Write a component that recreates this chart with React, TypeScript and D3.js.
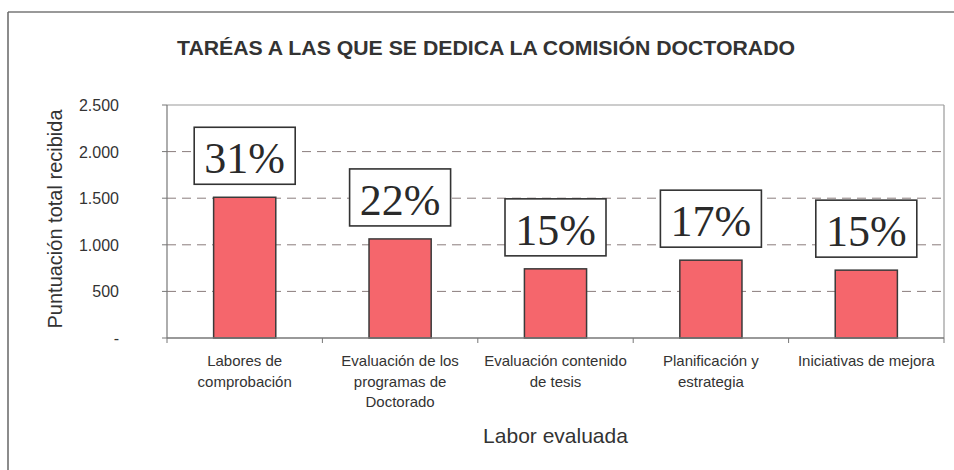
import React from "react";
import * as d3 from "d3";

const categories: string[][] = [
  ["Labores de", "comprobación"],
  ["Evaluación de los", "programas de", "Doctorado"],
  ["Evaluación contenido", "de tesis"],
  ["Planificación y", "estrategia"],
  ["Iniciativas de mejora"],
];
const values: number[] = [1510, 1063, 742, 835, 728];
const percentLabels: string[] = ["31%", "22%", "15%", "17%", "15%"];
const yTicks: number[] = [0, 500, 1000, 1500, 2000, 2500];
const title = "TARÉAS A LAS QUE SE DEDICA LA COMISIÓN DOCTORADO";
const yTitle = "Puntuación total recibida";
const xTitle = "Labor evaluada";

const W = 954;
const H = 470;
const M = { left: 167, right: 944, top: 105, bottom: 338 };

const locale = d3.formatLocale({
  decimal: ",",
  thousands: ".",
  grouping: [3],
  currency: ["", ""],
});
const fmt = locale.format(",d");

export default function App() {
  const x = d3
    .scaleBand<number>()
    .domain(values.map((_, i) => i))
    .range([M.left, M.right])
    .paddingInner(0.6)
    .paddingOuter(0.3);
  const xOuter = d3
    .scaleBand<number>()
    .domain(values.map((_, i) => i))
    .range([M.left, M.right]);
  const y = d3.scaleLinear().domain([0, 2500]).range([M.bottom, M.top]);

  const textCol = "#333";
  const sans = "'Liberation Sans', Arial, sans-serif";
  const serif = "'Liberation Serif', 'Times New Roman', serif";
  const boxW = 101;
  const boxH = 57;
  const gap = 13;

  return (
    <svg
      width={W}
      height={H}
      style={{ position: "absolute", left: 0, top: 0, background: "#fff" }}
    >
      {/* outer frame (scan shows only left and top edges) */}
      <line x1={8} y1={12} x2={W} y2={12} stroke="#777" strokeWidth={1.5} />
      <line x1={8} y1={12} x2={8} y2={H} stroke="#666" strokeWidth={1.5} />

      <text
        x={486}
        y={55}
        textAnchor="middle"
        fontFamily={sans}
        fontWeight="bold"
        fontSize={21}
        fill={textCol}
        textLength={618}
        lengthAdjust="spacingAndGlyphs"
      >
        {title}
      </text>

      {/* gridlines */}
      {yTicks
        .filter((t) => t > 0 && t < 2500)
        .map((t) => (
          <line
            key={"g" + t}
            x1={M.left}
            x2={M.right}
            y1={y(t)}
            y2={y(t)}
            stroke="#8a7d7d"
            strokeWidth={1}
            strokeDasharray="9,6"
          />
        ))}

      {/* plot border */}
      <line x1={M.left} x2={M.right} y1={M.top} y2={M.top} stroke="#999" strokeWidth={1.2} />
      <line x1={M.right} x2={M.right} y1={M.top} y2={M.bottom} stroke="#999" strokeWidth={1.2} />
      <line x1={M.left} x2={M.left} y1={M.top} y2={M.bottom} stroke="#777" strokeWidth={1.2} />

      {/* y tick marks and labels */}
      {yTicks.map((t) => (
        <g key={"t" + t}>
          <line x1={M.left - 5} x2={M.left} y1={y(t)} y2={y(t)} stroke="#777" />
          <text
            x={119}
            y={y(t) + 6}
            textAnchor="end"
            fontFamily={sans}
            fontSize={16}
            fill={textCol}
          >
            {t === 0 ? "-" : fmt(t)}
          </text>
        </g>
      ))}

      {/* bars */}
      {values.map((v, i) => (
        <rect
          key={"b" + i}
          x={x(i)}
          y={y(v)}
          width={x.bandwidth()}
          height={y(0) - y(v)}
          fill="#F5666C"
          stroke="#3a3a3a"
          strokeWidth={1.5}
        />
      ))}

      {/* x axis */}
      <line x1={M.left} x2={M.right} y1={M.bottom} y2={M.bottom} stroke="#777" strokeWidth={1.5} />
      {values.map((_, i) => (
        <line
          key={"xt" + i}
          x1={xOuter(i)}
          x2={xOuter(i)}
          y1={M.bottom}
          y2={M.bottom + 5}
          stroke="#777"
        />
      ))}
      <line x1={M.right} x2={M.right} y1={M.bottom} y2={M.bottom + 5} stroke="#777" />

      {/* percentage boxes */}
      {values.map((v, i) => {
        const cx = (x(i) as number) + x.bandwidth() / 2;
        const bottom = y(v) - gap;
        return (
          <g key={"p" + i}>
            <rect
              x={cx - boxW / 2}
              y={bottom - boxH}
              width={boxW}
              height={boxH}
              fill="#fff"
              stroke="#333"
              strokeWidth={1.6}
            />
            <text
              x={cx}
              y={bottom - 11}
              textAnchor="middle"
              fontFamily={serif}
              fontSize={44}
              fill="#2a2a2a"
            >
              {percentLabels[i]}
            </text>
          </g>
        );
      })}

      {/* category labels */}
      {categories.map((lines, i) => {
        const cx = (xOuter(i) as number) + xOuter.bandwidth() / 2;
        return (
          <text
            key={"c" + i}
            x={cx}
            y={366}
            textAnchor="middle"
            fontFamily={sans}
            fontSize={15}
            fill={textCol}
          >
            {lines.map((l, j) => (
              <tspan key={j} x={cx} dy={j === 0 ? 0 : 20.5}>
                {l}
              </tspan>
            ))}
          </text>
        );
      })}

      {/* axis titles */}
      <text
        x={(M.left + M.right) / 2}
        y={443}
        textAnchor="middle"
        fontFamily={sans}
        fontSize={21}
        fill={textCol}
      >
        {xTitle}
      </text>
      <text
        transform={`translate(62, 219) rotate(-90)`}
        textAnchor="middle"
        fontFamily={sans}
        fontSize={20}
        fill={textCol}
      >
        {yTitle}
      </text>
    </svg>
  );
}
